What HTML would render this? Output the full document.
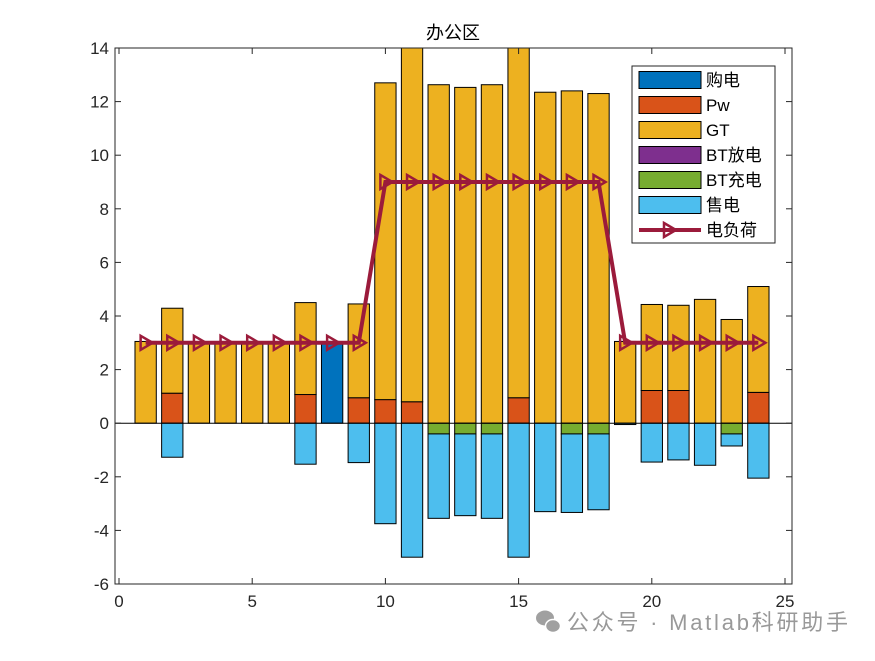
<!DOCTYPE html>
<html><head><meta charset="utf-8"><style>
body{margin:0;background:#fff;}
svg text{font-family:"Liberation Sans","Noto Sans CJK SC",sans-serif;}
</style></head><body>
<svg id="chart" width="875" height="656" xmlns="http://www.w3.org/2000/svg"></svg>
<script>
const hours=[1,2,3,4,5,6,7,8,9,10,11,12,13,14,15,16,17,18,19,20,21,22,23,24];
const buyPower=[0,0,0,0,0,0,0,3.0,0,0,0,0,0,0,0,0,0,0,0,0,0,0,0,0];
const pwPower=[0,1.12,0,0,0,0,1.07,0,0.95,0.88,0.8,0,0,0,0.95,0,0,0,0,1.22,1.22,0,0,1.15];
const gtPower=[3.05,3.17,3.0,3.0,3.0,3.0,3.43,0,3.5,11.82,13.7,12.63,12.53,12.63,13.55,12.35,12.4,12.3,3.05,3.21,3.18,4.62,3.87,3.95];
const btDischarge=[0,0,0,0,0,0,0,0,0,0,0,0,0,0,0,0,0,0,0,0,0,0,0,0];
const btCharge=[0,0,0,0,0,0,0,0,0,0,0,-0.4,-0.4,-0.4,0,0,-0.4,-0.4,0,0,0,0,-0.4,0];
const sellPower=[0,-1.27,0,0,0,0,-1.53,0,-1.47,-3.75,-5.0,-3.15,-3.05,-3.15,-5.0,-3.3,-2.93,-2.83,-0.05,-1.45,-1.37,-1.57,-0.45,-2.05];
const loadPower=[3,3,3,3,3,3,3,3,3,9,9,9,9,9,9,9,9,9,3,3,3,3,3,3];
const xTicks=[0,5,10,15,20,25];
const yTicks=[-6,-4,-2,0,2,4,6,8,10,12,14];

const L=115,R=792,T=48,B=584;
const xScale=v=>119+v*(785-119)/25;
const yScale=v=>T+(14-v)*(B-T)/20;
const NS="http://www.w3.org/2000/svg";
const svg=document.getElementById('chart');
function mk(tag,attrs,parent){const e=document.createElementNS(NS,tag);for(const k in attrs)e.setAttribute(k,attrs[k]);(parent||svg).appendChild(e);return e;}
const LC='#9B1B3B';

const defs=mk('defs',{});
const cp=mk('clipPath',{id:'plotclip'},defs);
mk('rect',{x:L,y:T,width:R-L,height:B-T},cp);

const bg=mk('rect',{x:L,y:T,width:R-L,height:B-T,fill:'#fff'});



const barsG=mk('g',{'clip-path':'url(#plotclip)'});


const bw=0.8*(xScale(1)-xScale(0));
const posSeries=[[buyPower,'#0072BD','buy'],[pwPower,'#D95319','pw'],[gtPower,'#EDB120','gt'],[btDischarge,'#7E2F8E','bt-discharge']];
const negSeries=[[btCharge,'#77AC30','bt-charge'],[sellPower,'#4DBEEE','sell']];
hours.forEach((h,i)=>{
  let base=0;
  posSeries.forEach(([arr,col,nm])=>{
    const v=arr[i]; if(v<=0)return;
    const r=mk('rect',{x:xScale(h)-bw/2,y:yScale(base+v),width:bw,height:yScale(base)-yScale(base+v),fill:col,stroke:'#000','stroke-width':1},barsG);
    
    
    base+=v;
  });
  let nb=0;
  negSeries.forEach(([arr,col,nm])=>{
    const v=arr[i]; if(v>=0)return;
    const r=mk('rect',{x:xScale(h)-bw/2,y:yScale(nb),width:bw,height:yScale(nb+v)-yScale(nb),fill:col,stroke:'#000','stroke-width':1},barsG);
    
    
    nb+=v;
  });
});
const zl=mk('line',{x1:L,x2:R,y1:yScale(0),y2:yScale(0),stroke:'#000','stroke-width':1});



const pts=hours.map((h,i)=>xScale(h)+','+yScale(loadPower[i])).join(' ');
const ll=mk('polyline',{points:pts,fill:'none',stroke:LC,'stroke-width':4});


hours.forEach((h,i)=>{
  const x=xScale(h),y=yScale(loadPower[i]);
  const m=mk('polygon',{points:`${x-5},${y-7} ${x+7},${y} ${x-5},${y+7}`,fill:'none',stroke:LC,'stroke-width':2.5});
  
  
});

const box=mk('rect',{x:L,y:T,width:R-L,height:B-T,fill:'none',stroke:'#262626','stroke-width':1});


xTicks.forEach(t=>{
  const x=xScale(t);
  mk('line',{x1:x,x2:x,y1:B,y2:B-6,stroke:'#262626'});
  mk('line',{x1:x,x2:x,y1:T,y2:T+6,stroke:'#262626'});
  const tx=mk('text',{x:x,y:B+23,'text-anchor':'middle','font-size':17,fill:'#262626'});
  tx.textContent=t;
  
  
});
yTicks.forEach(t=>{
  const y=yScale(t);
  mk('line',{x1:L,x2:L+6,y1:y,y2:y,stroke:'#262626'});
  mk('line',{x1:R,x2:R-6,y1:y,y2:y,stroke:'#262626'});
  const tx=mk('text',{x:L-6,y:y+6,'text-anchor':'end','font-size':17,fill:'#262626'});
  tx.textContent=t;
  
  
});
const title=mk('text',{x:453,y:39,'text-anchor':'middle','font-size':18,fill:'#000'});
title.textContent='办公区';



const lg=mk('g',{});


mk('rect',{x:632,y:66,width:143,height:177,fill:'#fff',stroke:'#262626'},lg);
const legendNames=['购电','Pw','GT','BT放电','BT充电','售电'];
const legendCols=['#0072BD','#D95319','#EDB120','#7E2F8E','#77AC30','#4DBEEE'];
legendNames.forEach((n,i)=>{
  const y=80+i*25;
  const r=mk('rect',{x:639,y:y-8.5,width:62,height:17,fill:legendCols[i],stroke:'#000'},lg);
  
  
  const t=mk('text',{x:706,y:y+6,'font-size':17,fill:'#000'},lg);
  t.textContent=n;
  
  
});
mk('line',{x1:639,x2:701,y1:230,y2:230,stroke:LC,'stroke-width':4},lg);
mk('polygon',{points:'664,223 676,230 664,237',fill:'none',stroke:LC,'stroke-width':2.5},lg);
const lt=mk('text',{x:706,y:236,'font-size':17,fill:'#000'},lg);
lt.textContent='电负荷';



const ic=mk('g',{fill:'#a0a0a0'});


mk('ellipse',{cx:545,cy:618,rx:9,ry:7.5},ic);
mk('ellipse',{cx:553,cy:626,rx:7.5,ry:6.5,stroke:'#fff','stroke-width':1.5},ic);
const wm=mk('text',{x:567,y:630,'font-size':22,fill:'#999',textLength:281});
wm.textContent='公众号 · Matlab科研助手';


</script>
</body></html>
